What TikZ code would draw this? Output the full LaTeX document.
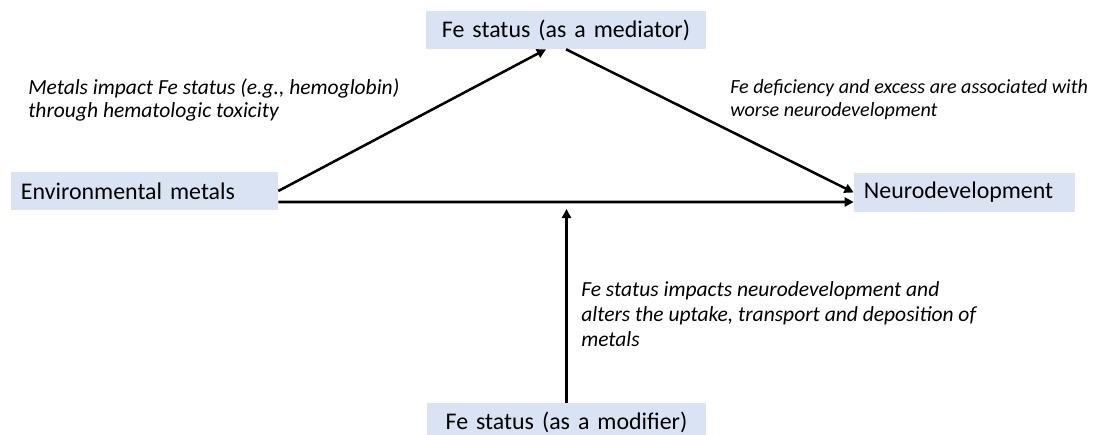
\documentclass[tikz,border=0pt]{standalone}
\usepackage{fontspec}
\setmainfont{Carlito}
\usetikzlibrary{calc,arrows.meta}
\definecolor{boxblue}{HTML}{DAE3F3}
\tikzset{
  factor/.style={fill=boxblue, inner xsep=0.25cm, inner ysep=0pt, minimum height=0.95cm, font=\fontsize{17}{20}\selectfont},
  note/.style={anchor=north west, align=left, inner sep=0pt, font=\fontsize{15.3}{16.2}\selectfont\itshape},
  link/.style={line width=1.8pt, -{Triangle[length=6.5pt,width=6.5pt]}}
}
\begin{document}
\begin{tikzpicture}[x=0.025cm,y=-0.025cm]
\useasboundingbox (0,0) rectangle (1110,434);
\node[factor, text width=6.175cm, align=left] (metals) at (144.5,191) {Environmental metals};
\node[factor, text width=6.5cm, align=center] (med) at (566,30) {Fe status (as a mediator)};
\node[factor, text width=5.025cm, align=left] (neuro) at (964.5,192.5) {Neurodevelopment};
\node[factor, text width=6.475cm, align=center] (mod) at (566.5,422) {Fe status (as a modifier)};
\coordinate (meet) at (566.5,209);
\draw[link] (metals.east) -- ($(med.south)+(-20,0)$);
\draw[link] (med.south) -- (neuro.west);
\draw[link] ($(metals.east)+(0,11)$) -- ($(neuro.west)+(0,9.5)$);
\draw[link] (mod.north) -- (meet);
\node[note] (lbla) at (28,79) {Metals impact Fe status (e.g., hemoglobin)\\through hematologic toxicity};
\node[note, font=\fontsize{14.3}{16.2}\selectfont\itshape] (lblb) at (730,79) {Fe deficiency and excess are associated with\\worse neurodevelopment};
\node[note, font=\fontsize{15.3}{17.8}\selectfont\itshape] (lblc) at (581,281) {Fe status impacts neurodevelopment and\\alters the uptake, transport and deposition of\\metals};
\end{tikzpicture}
\end{document}
